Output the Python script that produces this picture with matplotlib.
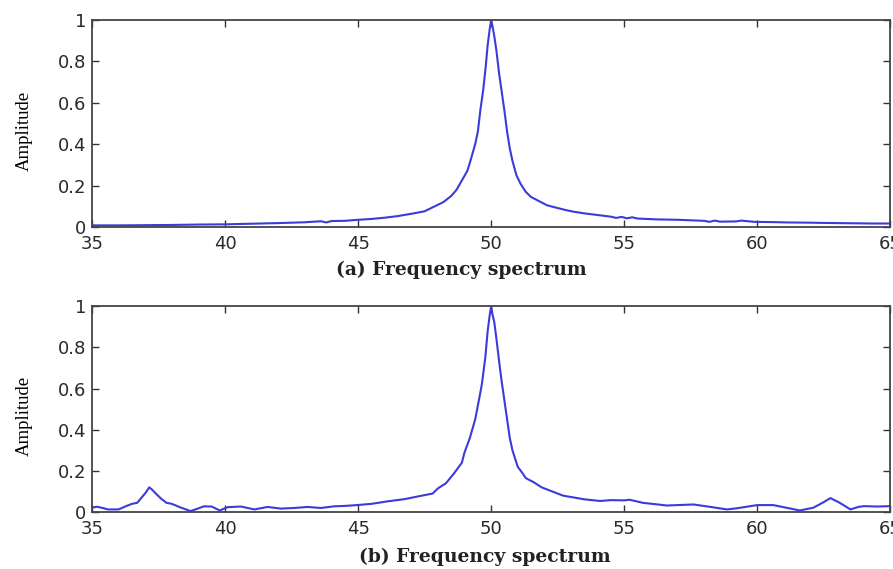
import matplotlib
matplotlib.use("Agg")
import matplotlib.pyplot as plt

# ---- Spektrum (a): gemessene Amplituden (normiert) ----
freq_a = [35.0, 36.0, 37.0, 38.0, 39.0, 40.0, 41.0, 42.0, 43.0, 43.6, 43.8,
          44.0, 44.5, 45.0, 45.5, 46.0, 46.5, 47.0, 47.5, 47.8, 48.2, 48.5,
          48.7, 48.9, 49.1, 49.2, 49.4, 49.5, 49.6, 49.7, 49.8, 49.87, 49.95,
          50.0, 50.05, 50.12, 50.2, 50.3, 50.4, 50.5, 50.6, 50.7, 50.8, 50.95,
          51.1, 51.3, 51.5, 51.8, 52.1, 52.4, 52.8, 53.1, 53.5, 54.0, 54.5,
          54.7, 54.9, 55.1, 55.3, 55.5, 56.2, 57.0, 57.4, 58.0, 58.2, 58.4,
          58.6, 59.2, 59.4, 59.9, 60.5, 61.2, 62.0, 62.4, 63.0, 63.7, 64.3,
          65.0]
amp_a = [0.008, 0.008, 0.009, 0.010, 0.012, 0.013, 0.016, 0.019, 0.023, 0.028,
         0.022, 0.029, 0.030, 0.035, 0.039, 0.045, 0.053, 0.064, 0.076, 0.095,
         0.120, 0.150, 0.180, 0.225, 0.27, 0.31, 0.40, 0.46, 0.57, 0.66, 0.78,
         0.88, 0.96, 1.0, 0.97, 0.92, 0.85, 0.74, 0.65, 0.56, 0.46, 0.38, 0.32,
         0.25, 0.21, 0.17, 0.145, 0.125, 0.105, 0.095, 0.082, 0.074, 0.066,
         0.058, 0.050, 0.044, 0.049, 0.042, 0.047, 0.041, 0.037, 0.035, 0.033,
         0.030, 0.025, 0.031, 0.026, 0.027, 0.031, 0.025, 0.024, 0.022, 0.021,
         0.020, 0.019, 0.018, 0.017, 0.017]

# ---- Spektrum (b) ----
freq_b = [35.0, 35.2, 35.4, 35.6, 36.0, 36.3, 36.5, 36.7, 36.9, 37.05, 37.15,
          37.25, 37.4, 37.6, 37.8, 38.0, 38.3, 38.7, 39.0, 39.2, 39.5, 39.8,
          40.1, 40.6, 41.1, 41.6, 42.1, 42.6, 43.1, 43.6, 44.1, 44.5, 44.85,
          45.5, 46.1, 46.75, 47.4, 47.8, 48.0, 48.3, 48.6, 48.9, 49.0, 49.2,
          49.4, 49.55, 49.65, 49.78, 49.87, 49.95, 50.0, 50.05, 50.12, 50.2,
          50.31, 50.4, 50.5, 50.6, 50.7, 50.8, 50.9, 51.0, 51.2, 51.3, 51.6,
          51.9, 52.1, 52.7, 53.5, 54.1, 54.5, 55.0, 55.2, 55.7, 56.2, 56.6,
          57.0, 57.6, 58.2, 58.86, 59.2, 59.5, 60.0, 60.6, 61.1, 61.6, 62.1,
          62.45, 62.75, 63.1, 63.5, 63.8, 64.0, 64.5, 65.0]
amp_b = [0.022, 0.026, 0.020, 0.013, 0.013, 0.030, 0.040, 0.045, 0.076, 0.10,
         0.12, 0.11, 0.09, 0.065, 0.045, 0.040, 0.024, 0.005, 0.018, 0.028,
         0.027, 0.008, 0.024, 0.027, 0.013, 0.025, 0.017, 0.020, 0.025, 0.020,
         0.028, 0.030, 0.033, 0.040, 0.052, 0.063, 0.080, 0.090, 0.115, 0.14,
         0.187, 0.24, 0.29, 0.36, 0.45, 0.55, 0.62, 0.75, 0.88, 0.96, 1.0,
         0.96, 0.92, 0.84, 0.72, 0.63, 0.54, 0.45, 0.36, 0.30, 0.26, 0.22,
         0.185, 0.165, 0.145, 0.12, 0.11, 0.08, 0.062, 0.054, 0.058, 0.057,
         0.060, 0.045, 0.038, 0.032, 0.034, 0.037, 0.026, 0.013, 0.018, 0.024,
         0.034, 0.034, 0.021, 0.008, 0.021, 0.045, 0.068, 0.045, 0.013, 0.025,
         0.029, 0.027, 0.029]

x_ticks = [35, 40, 45, 50, 55, 60, 65]
y_ticks = [0, 0.2, 0.4, 0.6, 0.8, 1.0]
y_ticklabels = ["0", "0.2", "0.4", "0.6", "0.8", "1"]
labels = ["(a) Frequency spectrum", "(b) Frequency spectrum"]

LINE_COLOR = "#3b3bdc"
TICK_FONT = "DejaVu Sans"
SERIF = "Liberation Serif"

fig = plt.figure(figsize=(8.93, 5.69), dpi=100)
ax_top = fig.add_axes([0.103, 0.601, 0.894, 0.364])
ax_bot = fig.add_axes([0.103, 0.100, 0.894, 0.362])

for ax, fx, fy in [(ax_top, freq_a, amp_a), (ax_bot, freq_b, amp_b)]:
    ax.plot(fx, fy, color=LINE_COLOR, lw=1.5)
    ax.set_xlim(35, 65)
    ax.set_ylim(0, 1)
    ax.set_xticks(x_ticks)
    ax.set_yticks(y_ticks)
    ax.set_yticklabels(y_ticklabels)
    ax.tick_params(direction="in", top=True, right=True, length=5,
                   width=1.0, color="#333333", labelsize=13)
    ax.tick_params(axis="x", pad=6)
    ax.tick_params(axis="y", pad=4)
    for lbl in ax.get_xticklabels() + ax.get_yticklabels():
        lbl.set_family(TICK_FONT)
        lbl.set_color("#2a2a2a")
    for sp in ax.spines.values():
        sp.set_linewidth(1.3)
        sp.set_color("#444444")
    ax.set_ylabel("Amplitude", family=SERIF, fontsize=13.5)
    ax.yaxis.set_label_coords(-0.074, 0.465)

# Unterschriften der Teilbilder
fig.text(0.517, 0.5255, labels[0], family="DejaVu Serif", fontsize=13.5,
         fontweight="bold", ha="center", va="center", color="#222222")
fig.text(0.543, 0.021, labels[1], family="DejaVu Serif", fontsize=13.5,
         fontweight="bold", ha="center", va="center", color="#222222")

fig.savefig("out.png", dpi=100)
